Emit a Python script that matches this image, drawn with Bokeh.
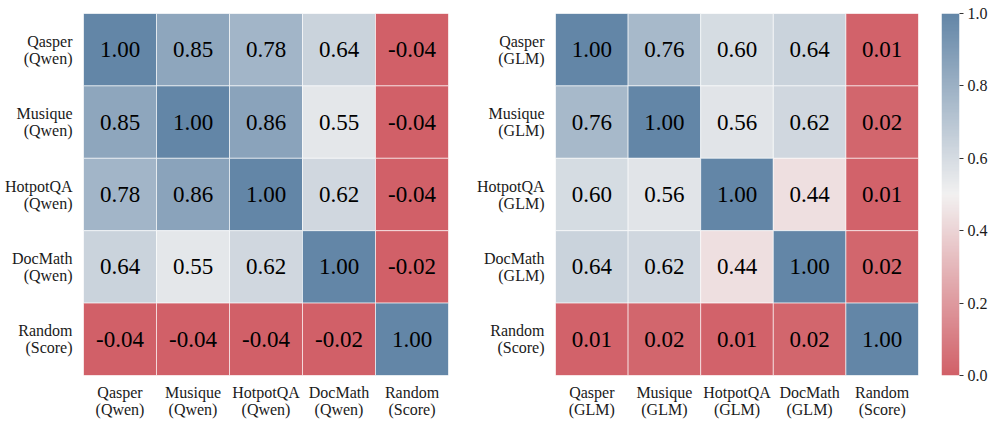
import numpy as np
from bokeh.plotting import figure
from bokeh.layouts import row
from bokeh.models import LinearColorMapper, ColumnDataSource, FixedTicker
from bokeh.core.properties import value
from bokeh.embed import file_html
from bokeh.resources import INLINE

labels_qwen = ["Qasper\n(Qwen)", "Musique\n(Qwen)", "HotpotQA\n(Qwen)", "DocMath\n(Qwen)", "Random\n(Score)"]
labels_glm = ["Qasper\n(GLM)", "Musique\n(GLM)", "HotpotQA\n(GLM)", "DocMath\n(GLM)", "Random\n(Score)"]

qwen = [
    [1.00, 0.85, 0.78, 0.64, -0.04],
    [0.85, 1.00, 0.86, 0.55, -0.04],
    [0.78, 0.86, 1.00, 0.62, -0.04],
    [0.64, 0.55, 0.62, 1.00, -0.02],
    [-0.04, -0.04, -0.04, -0.02, 1.00],
]
glm = [
    [1.00, 0.76, 0.60, 0.64, 0.01],
    [0.76, 1.00, 0.56, 0.62, 0.02],
    [0.60, 0.56, 1.00, 0.44, 0.01],
    [0.64, 0.62, 0.44, 1.00, 0.02],
    [0.01, 0.02, 0.01, 0.02, 1.00],
]
cbar_ticks = [0.0, 0.2, 0.4, 0.6, 0.8, 1.0]

FONT = "Liberation Serif"

# diverging palette red -> light -> blue
red = np.array([209, 96, 104])
mid = np.array([242, 241, 241])
blue = np.array([99, 134, 167])
palette = []
for t in np.linspace(0, 1, 256):
    if t <= 0.5:
        c = red + (mid - red) * (t / 0.5)
    else:
        c = mid + (blue - mid) * ((t - 0.5) / 0.5)
    palette.append("#%02x%02x%02x" % tuple(int(round(v)) for v in c))
mapper = LinearColorMapper(palette=palette, low=0.0, high=1.0)

H = 420
TOP = 13
BOTTOM = H - TOP - 364


def heatmap(labels, mat, width, left, right):
    xs, ys, vals, txt = [], [], [], []
    for i, r in enumerate(mat):
        for j, v in enumerate(r):
            xs.append(labels[j]); ys.append(labels[i]); vals.append(v); txt.append("%.2f" % v)
    src = ColumnDataSource(dict(x=xs, y=ys, v=vals, t=txt))
    p = figure(x_range=labels, y_range=list(reversed(labels)), width=width, height=H,
               output_backend="svg", toolbar_location=None,
               min_border_left=left, min_border_right=right, min_border_top=TOP, min_border_bottom=BOTTOM)
    p.rect("x", "y", 1, 1, source=src, fill_color={"field": "v", "transform": mapper},
           line_color="white", line_alpha=0.6, line_width=1)
    p.text("x", "y", text="t", source=src, text_align="center", text_baseline="middle",
           text_font=value(FONT), text_font_size="23px", text_color="black")
    p.outline_line_color = None
    p.grid.grid_line_color = None
    for ax in (p.xaxis, p.yaxis):
        ax.axis_line_color = None
        ax.major_tick_line_color = None
        ax.major_tick_out = 0
        ax.major_tick_in = 0
        ax.minor_tick_line_color = None
        ax.major_label_text_font = FONT
        ax.major_label_text_font_size = "16px"
        ax.major_label_text_color = "#1a1a1a"
        ax.major_label_text_line_height = 1.0
    p.yaxis.major_label_standoff = 11
    p.xaxis.major_label_standoff = 8
    p.xaxis.major_label_orientation = "horizontal"
    return p


p1 = heatmap(labels_qwen, qwen, 473, 83, 25)
p2 = heatmap(labels_glm, glm, 457, 80, 12)

pc = figure(width=60, height=H, x_range=(0, 1), y_range=(0, 1), output_backend="svg",
            toolbar_location=None, y_axis_location="right",
            min_border_left=11, min_border_right=30, min_border_top=TOP, min_border_bottom=BOTTOM - 1)
grad = np.linspace(0, 1, 256).reshape(256, 1)
pc.image(image=[grad], x=0, y=0, dw=1, dh=1, color_mapper=mapper)
pc.outline_line_color = None
pc.grid.grid_line_color = None
pc.xaxis.visible = False
pc.yaxis.ticker = FixedTicker(ticks=cbar_ticks)
pc.yaxis.axis_line_color = None
pc.yaxis.minor_tick_line_color = None
pc.yaxis.major_tick_out = 4
pc.yaxis.major_tick_in = 0
pc.yaxis.major_tick_line_color = "#333333"
pc.yaxis.major_label_standoff = 4
pc.yaxis.major_label_text_font = FONT
pc.yaxis.major_label_text_font_size = "16px"
pc.yaxis.major_label_text_color = "#1a1a1a"
pc.yaxis.major_label_overrides = {t: "%.1f" % t for t in cbar_ticks}

layout = row(p1, p2, pc, spacing=0)
open("out.html", "w").write(file_html(layout, INLINE))
